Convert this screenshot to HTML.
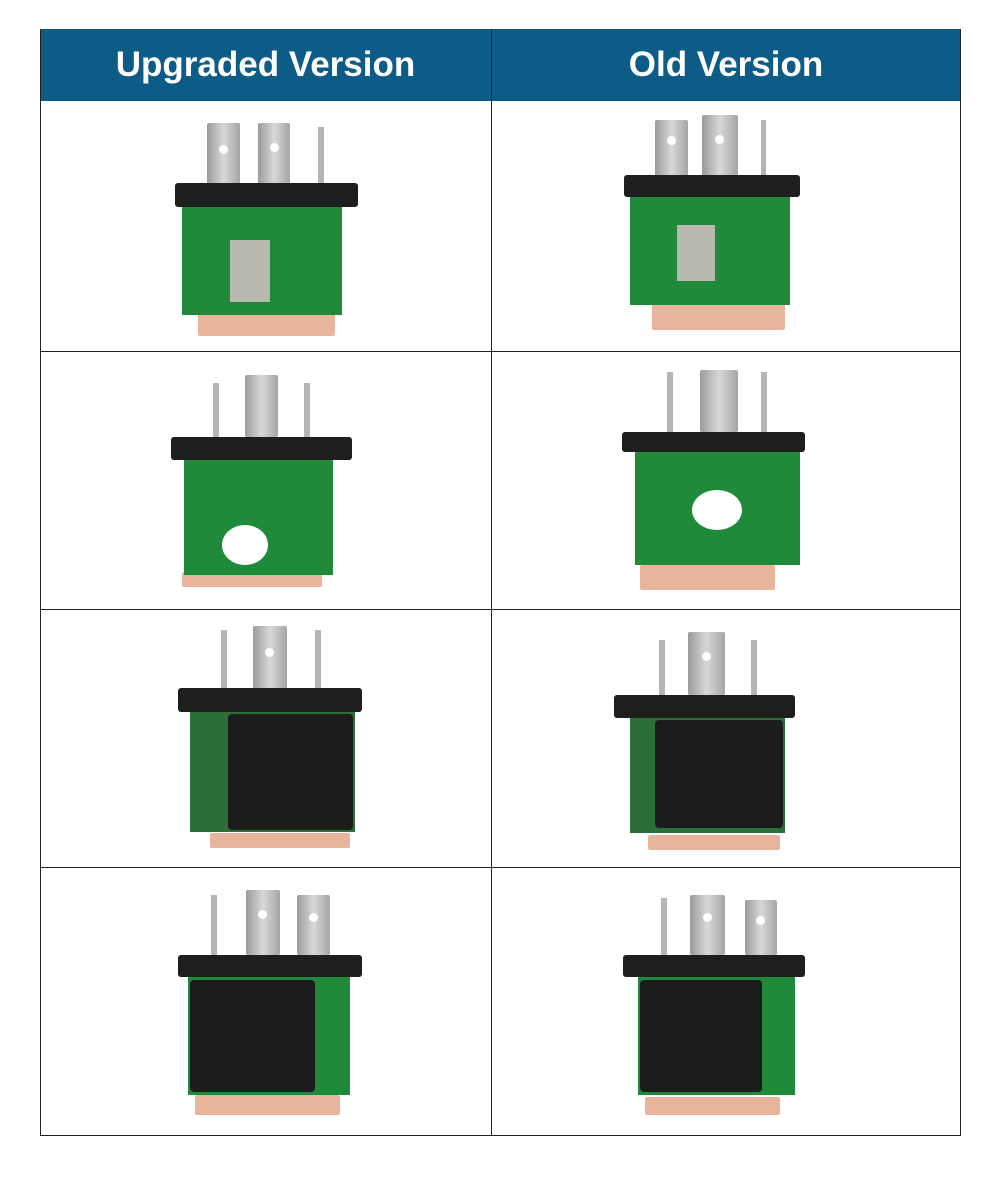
<!DOCTYPE html>
<html><head><meta charset="utf-8"><style>
*{margin:0;padding:0;box-sizing:border-box}
body{width:1000px;height:1185px;background:#fff;position:relative;overflow:hidden;font-family:"Liberation Sans",sans-serif}
.a{position:absolute}
.hd{background:#0d5b87;color:#fff;font-weight:bold;font-size:35px;text-align:center;line-height:72px;top:29px;height:72px}
.ln{background:#222}
.pin{background:linear-gradient(90deg,#9a9a98,#d8d8d6,#a5a5a3);border-radius:2px}
.thin{background:#b5b5b3}
.bar{background:#1e1e1e;border-radius:3px}
.pcb{background:#1f8a3a}
.box{background:#1c1c1c;border-radius:4px}
.cu{background:#e8b49c;border-radius:2px}
.hole{position:absolute;background:#fff;border-radius:50%;width:9px;height:9px}
.sim{background:#b9b9b0}
</style></head><body>
<div class="a hd" style="left:40px;width:451px">Upgraded Version</div>
<div class="a hd" style="left:491px;width:470px">Old Version</div>
<div class="a ln" style="left:40px;top:29px;width:1px;height:1107px"></div>
<div class="a ln" style="left:960px;top:29px;width:1px;height:1107px"></div>
<div class="a ln" style="left:491px;top:29px;width:1px;height:1107px"></div>
<div class="a ln" style="left:40px;top:351px;width:921px;height:1px"></div>
<div class="a ln" style="left:40px;top:609px;width:921px;height:1px"></div>
<div class="a ln" style="left:40px;top:867px;width:921px;height:1px"></div>
<div class="a ln" style="left:40px;top:1135px;width:921px;height:1px"></div>

<!-- row1 up -->
<div class="a pin" style="left:207px;top:123px;width:33px;height:62px"><div class="hole" style="left:12px;top:22px"></div></div>
<div class="a pin" style="left:258px;top:123px;width:32px;height:62px"><div class="hole" style="left:12px;top:20px"></div></div>
<div class="a thin" style="left:318px;top:127px;width:6px;height:58px"></div>
<div class="a cu" style="left:198px;top:312px;width:137px;height:24px"></div>
<div class="a pcb" style="left:182px;top:205px;width:160px;height:110px"></div>
<div class="a sim" style="left:230px;top:240px;width:40px;height:62px"></div>
<div class="a bar" style="left:175px;top:183px;width:183px;height:24px"></div>
<!-- row1 old -->
<div class="a pin" style="left:655px;top:120px;width:33px;height:60px"><div class="hole" style="left:12px;top:16px"></div></div>
<div class="a pin" style="left:702px;top:115px;width:36px;height:65px"><div class="hole" style="left:13px;top:20px"></div></div>
<div class="a thin" style="left:761px;top:120px;width:5px;height:60px"></div>
<div class="a cu" style="left:652px;top:303px;width:133px;height:27px"></div>
<div class="a pcb" style="left:630px;top:195px;width:160px;height:110px"></div>
<div class="a sim" style="left:677px;top:225px;width:38px;height:56px"></div>
<div class="a bar" style="left:624px;top:175px;width:176px;height:22px"></div>

<!-- row2 up -->
<div class="a thin" style="left:213px;top:383px;width:6px;height:54px"></div>
<div class="a pin" style="left:245px;top:375px;width:33px;height:62px"></div>
<div class="a thin" style="left:304px;top:383px;width:6px;height:54px"></div>
<div class="a cu" style="left:182px;top:572px;width:140px;height:15px"></div>
<div class="a pcb" style="left:184px;top:460px;width:149px;height:115px"></div>
<div class="a" style="left:222px;top:525px;width:46px;height:40px;background:#fff;border-radius:50%"></div>
<div class="a bar" style="left:171px;top:437px;width:181px;height:23px"></div>
<!-- row2 old -->
<div class="a thin" style="left:667px;top:372px;width:6px;height:60px"></div>
<div class="a pin" style="left:700px;top:370px;width:38px;height:62px"></div>
<div class="a thin" style="left:761px;top:372px;width:6px;height:60px"></div>
<div class="a cu" style="left:640px;top:565px;width:135px;height:25px"></div>
<div class="a pcb" style="left:635px;top:452px;width:165px;height:113px"></div>
<div class="a" style="left:692px;top:490px;width:50px;height:40px;background:#fff;border-radius:50%"></div>
<div class="a bar" style="left:622px;top:432px;width:183px;height:20px"></div>

<!-- row3 up -->
<div class="a thin" style="left:221px;top:630px;width:6px;height:60px"></div>
<div class="a pin" style="left:253px;top:626px;width:34px;height:64px"><div class="hole" style="left:12px;top:22px"></div></div>
<div class="a thin" style="left:315px;top:630px;width:6px;height:60px"></div>
<div class="a cu" style="left:210px;top:833px;width:140px;height:15px"></div>
<div class="a pcb" style="left:190px;top:712px;width:165px;height:120px;background:#2a6e3a"></div>
<div class="a box" style="left:228px;top:714px;width:125px;height:116px"></div>
<div class="a bar" style="left:178px;top:688px;width:184px;height:24px"></div>
<!-- row3 old -->
<div class="a thin" style="left:659px;top:640px;width:6px;height:55px"></div>
<div class="a pin" style="left:688px;top:632px;width:37px;height:63px"><div class="hole" style="left:14px;top:20px"></div></div>
<div class="a thin" style="left:751px;top:640px;width:6px;height:55px"></div>
<div class="a cu" style="left:648px;top:835px;width:132px;height:15px"></div>
<div class="a pcb" style="left:630px;top:718px;width:155px;height:115px;background:#2a6e3a"></div>
<div class="a box" style="left:655px;top:720px;width:128px;height:108px"></div>
<div class="a bar" style="left:614px;top:695px;width:181px;height:23px"></div>

<!-- row4 up -->
<div class="a thin" style="left:211px;top:895px;width:6px;height:60px"></div>
<div class="a pin" style="left:246px;top:890px;width:34px;height:65px"><div class="hole" style="left:12px;top:20px"></div></div>
<div class="a pin" style="left:297px;top:895px;width:33px;height:60px"><div class="hole" style="left:12px;top:18px"></div></div>
<div class="a cu" style="left:195px;top:1095px;width:145px;height:20px"></div>
<div class="a pcb" style="left:188px;top:977px;width:162px;height:118px"></div>
<div class="a box" style="left:190px;top:980px;width:125px;height:112px"></div>
<div class="a bar" style="left:178px;top:955px;width:184px;height:22px"></div>
<!-- row4 old -->
<div class="a thin" style="left:661px;top:898px;width:6px;height:57px"></div>
<div class="a pin" style="left:690px;top:895px;width:35px;height:60px"><div class="hole" style="left:13px;top:18px"></div></div>
<div class="a pin" style="left:745px;top:900px;width:32px;height:55px"><div class="hole" style="left:11px;top:16px"></div></div>
<div class="a cu" style="left:645px;top:1097px;width:135px;height:18px"></div>
<div class="a pcb" style="left:638px;top:977px;width:157px;height:118px"></div>
<div class="a box" style="left:640px;top:980px;width:122px;height:112px"></div>
<div class="a bar" style="left:623px;top:955px;width:182px;height:22px"></div>
</body></html>
